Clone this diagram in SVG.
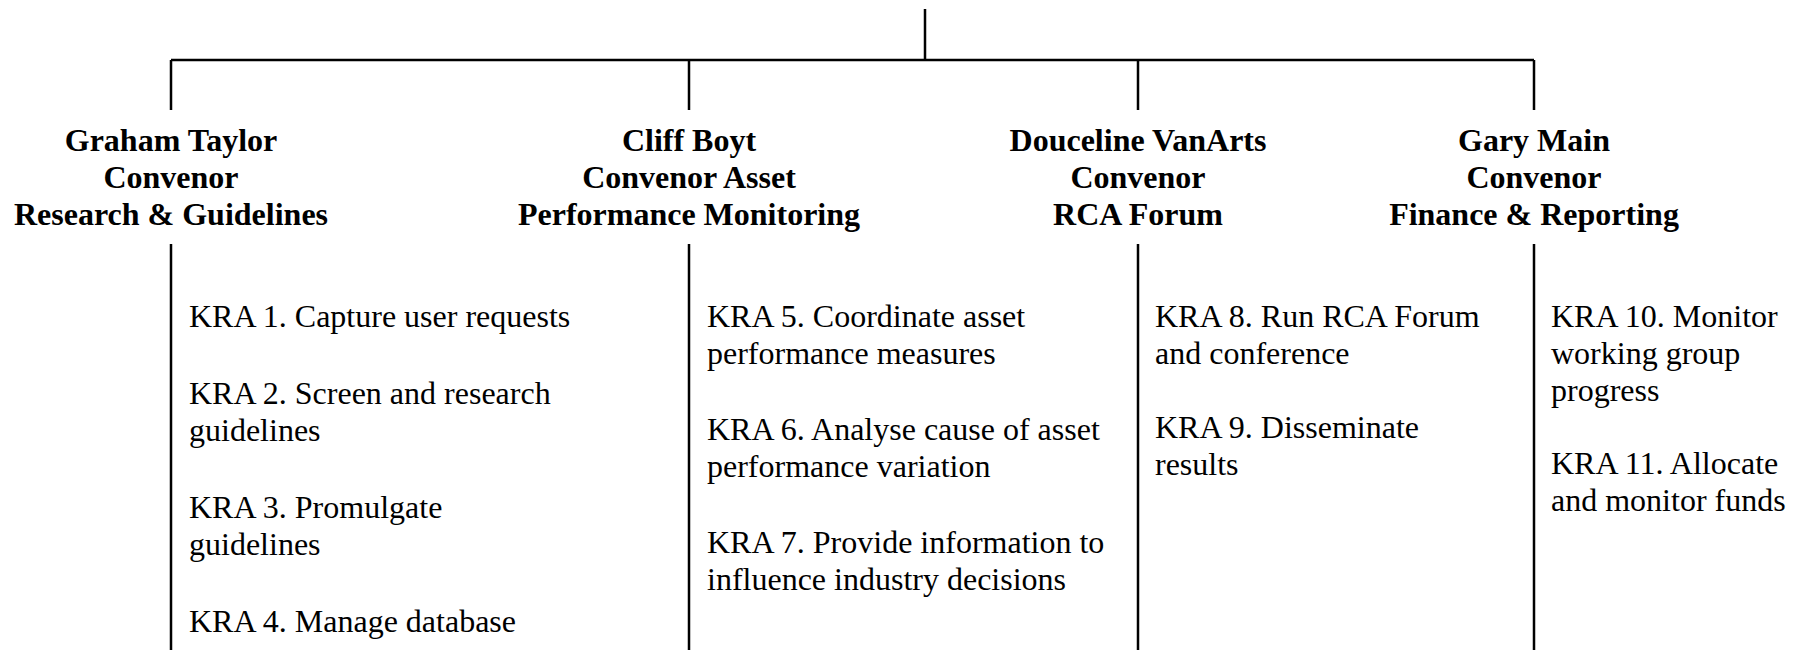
<svg xmlns="http://www.w3.org/2000/svg" width="1799" height="650" viewBox="0 0 1799 650">
<style>
.ln{stroke:#000;stroke-width:2.5;fill:none}
.hd{font-family:"Liberation Serif","Times New Roman",serif;font-size:32px;font-weight:bold;text-anchor:middle;fill:#000}
.tx{font-family:"Liberation Serif","Times New Roman",serif;font-size:32px;fill:#000}
</style>
<rect width="1799" height="650" fill="#fff"/>
<g id="connectors">
<path class="ln" d="M925 9V60M171 60H1534M171 60V110M689 60V110M1138 60V110M1534 60V110"/>
<path class="ln" d="M171 244V650M689 244V650M1138 244V650M1534 244V650"/>
</g>
<g id="node-taylor">
<text class="hd" x="171" y="151">Graham Taylor</text>
<text class="hd" x="171" y="188">Convenor</text>
<text class="hd" x="171" y="225">Research &amp; Guidelines</text>
<text class="tx" x="189" y="327">KRA 1. Capture user requests</text>
<text class="tx" x="189" y="404">KRA 2. Screen and research</text>
<text class="tx" x="189" y="441">guidelines</text>
<text class="tx" x="189" y="518">KRA 3. Promulgate</text>
<text class="tx" x="189" y="555">guidelines</text>
<text class="tx" x="189" y="632">KRA 4. Manage database</text>
</g>
<g id="node-boyt">
<text class="hd" x="689" y="151">Cliff Boyt</text>
<text class="hd" x="689" y="188">Convenor Asset</text>
<text class="hd" x="689" y="225">Performance Monitoring</text>
<text class="tx" x="707" y="327">KRA 5. Coordinate asset</text>
<text class="tx" x="707" y="364">performance measures</text>
<text class="tx" x="707" y="440">KRA 6. Analyse cause of asset</text>
<text class="tx" x="707" y="477">performance variation</text>
<text class="tx" x="707" y="553">KRA 7. Provide information to</text>
<text class="tx" x="707" y="590">influence industry decisions</text>
</g>
<g id="node-vanarts">
<text class="hd" x="1138" y="151">Douceline VanArts</text>
<text class="hd" x="1138" y="188">Convenor</text>
<text class="hd" x="1138" y="225">RCA Forum</text>
<text class="tx" x="1155" y="327">KRA 8. Run RCA Forum</text>
<text class="tx" x="1155" y="364">and conference</text>
<text class="tx" x="1155" y="438">KRA 9. Disseminate</text>
<text class="tx" x="1155" y="475">results</text>
</g>
<g id="node-main">
<text class="hd" x="1534" y="151">Gary Main</text>
<text class="hd" x="1534" y="188">Convenor</text>
<text class="hd" x="1534" y="225">Finance &amp; Reporting</text>
<text class="tx" x="1551" y="327">KRA 10. Monitor</text>
<text class="tx" x="1551" y="364">working group</text>
<text class="tx" x="1551" y="401">progress</text>
<text class="tx" x="1551" y="474">KRA 11. Allocate</text>
<text class="tx" x="1551" y="511">and monitor funds</text>
</g>
</svg>
